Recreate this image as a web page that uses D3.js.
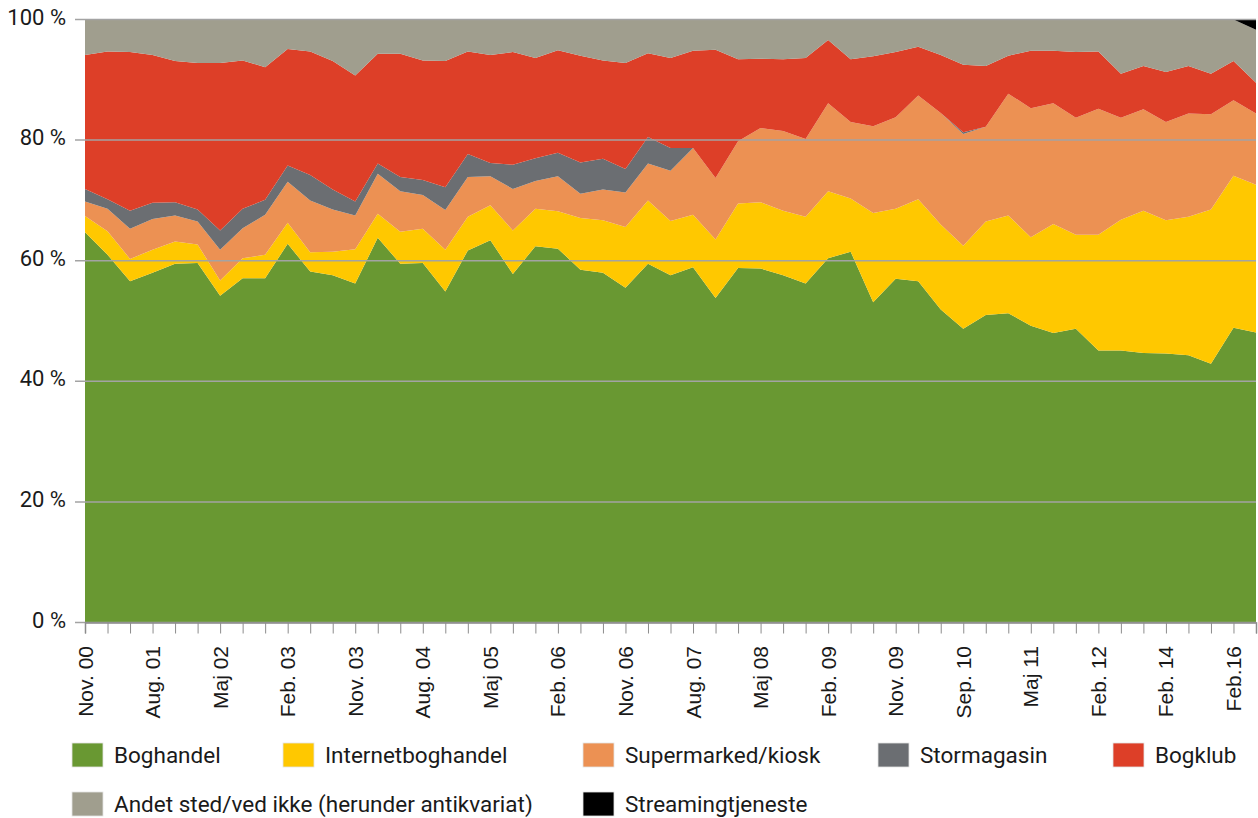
<!DOCTYPE html>
<html>
<head>
  <meta charset="utf-8"/>
  <style>
    body { margin: 0; background: #fff; }
    svg { display: block; }
    .ylab { font-family: Roboto, sans-serif; font-size: 22px; fill: #1a1a1a; }
    .xlab { font-family: "Liberation Sans", Arial, sans-serif; font-size: 21px; fill: #1a1a1a; }
    .leg { font-family: Roboto, sans-serif; font-size: 22.5px; fill: #1a1a1a; }
  </style>
</head>
<body>
  <div id="chart"></div>
  <script src="https://d3js.org/d3.v7.min.js"></script>
  <script>
    // one point per survey round, tick label on every third one
    let tickLabels = ['Nov. 00', 'Aug. 01', 'Maj 02', 'Feb. 03', 'Nov. 03', 'Aug. 04', 'Maj 05', 'Feb. 06',
                      'Nov. 06', 'Aug. 07', 'Maj 08', 'Feb. 09', 'Nov. 09', 'Sep. 10', 'Maj 11', 'Feb. 12',
                      'Feb. 14', 'Feb.16'];
    let nPoints = 53;

    let seriesNames = ['Boghandel', 'Internetboghandel', 'Supermarked/kiosk', 'Stormagasin', 'Bogklub',
                       'Andet sted/ved ikke (herunder antikvariat)', 'Streamingtjeneste'];

    let boghandel = [64.7, 61.0, 56.6, 58.0, 59.5, 59.6, 54.2, 57.1, 57.1, 62.8, 58.2, 57.6, 56.2, 63.8,
                     59.5, 59.6, 54.9, 61.7, 63.4, 57.8, 62.4, 62.0, 58.5, 58.0, 55.5, 59.5, 57.6, 58.9,
                     53.8, 58.8, 58.7, 57.6, 56.2, 60.4, 61.5, 53.1, 57.0, 56.6, 51.9, 48.7, 51.0, 51.3,
                     49.2, 48.0, 48.7, 45.1, 45.1, 44.7, 44.6, 44.3, 42.9, 48.9, 48.1];
    let internet = [2.7, 3.9, 3.7, 3.8, 3.7, 3.1, 2.5, 3.3, 3.9, 3.5, 3.2, 3.9, 5.7, 4.0,
                    5.3, 5.7, 6.9, 5.6, 5.8, 7.2, 6.2, 6.2, 8.6, 8.7, 10.1, 10.5, 9.0, 8.7,
                    9.7, 10.7, 11.0, 10.7, 11.1, 11.1, 8.8, 14.8, 11.6, 13.6, 14.1, 13.8, 15.5, 16.2,
                    14.7, 18.1, 15.6, 19.2, 21.7, 23.6, 22.1, 23.0, 25.6, 25.2, 24.5];
    let supermarked = [2.4, 3.7, 5.0, 5.1, 4.3, 3.8, 5.1, 5.0, 6.6, 6.8, 8.6, 7.0, 5.6, 6.6,
                       6.7, 5.6, 6.6, 6.6, 4.8, 6.9, 4.6, 5.8, 4.0, 5.1, 5.7, 6.1, 8.3, 11.1,
                       10.2, 10.3, 12.3, 13.2, 12.9, 14.6, 12.7, 14.4, 15.2, 17.2, 18.5, 18.5, 15.7, 20.2,
                       21.4, 20.0, 19.4, 20.9, 16.9, 16.8, 16.3, 17.1, 15.8, 12.5, 11.8];
    let stormagasin = [2.1, 1.6, 3.0, 2.7, 2.2, 2.0, 3.2, 3.2, 2.5, 2.7, 4.2, 3.3, 2.3, 1.7,
                       2.4, 2.5, 3.8, 3.8, 2.2, 4.0, 3.8, 3.9, 5.2, 5.1, 3.9, 4.4, 3.8, 0,
                       0, 0, 0, 0, 0, 0, 0, 0, 0, 0, 0, 0.3, 0, 0,
                       0, 0, 0, 0, 0, 0, 0, 0, 0, 0, 0];
    let bogklub = [22.2, 24.5, 26.3, 24.5, 23.4, 24.3, 27.8, 24.6, 22.0, 19.3, 20.5, 21.3, 20.9, 18.2,
                   20.4, 19.8, 20.9, 17.0, 17.9, 18.7, 16.6, 17.0, 17.7, 16.3, 17.6, 13.9, 14.9, 16.1,
                   21.3, 13.6, 11.5, 11.9, 13.4, 10.5, 10.4, 11.6, 10.8, 8.1, 9.6, 11.2, 10.1, 6.3,
                   9.5, 8.7, 10.9, 9.5, 7.3, 7.2, 8.3, 7.9, 6.7, 6.5, 5.1];
    let andet = [5.9, 5.3, 5.4, 5.9, 6.9, 7.2, 7.2, 6.8, 7.9, 4.9, 5.3, 6.9, 9.3, 5.7,
                 5.7, 6.8, 6.9, 5.3, 5.9, 5.4, 6.4, 5.1, 6.0, 6.8, 7.2, 5.6, 6.4, 5.2,
                 5.0, 6.6, 6.5, 6.6, 6.4, 3.4, 6.6, 6.1, 5.4, 4.5, 5.9, 7.5, 7.7, 6.0,
                 5.2, 5.2, 5.4, 5.3, 9.0, 7.7, 8.7, 7.7, 9.0, 6.9, 8.8];
    let streaming = [0, 0, 0, 0, 0, 0, 0, 0, 0, 0, 0, 0, 0, 0,
                     0, 0, 0, 0, 0, 0, 0, 0, 0, 0, 0, 0, 0, 0,
                     0, 0, 0, 0, 0, 0, 0, 0, 0, 0, 0, 0, 0, 0,
                     0, 0, 0, 0, 0, 0, 0, 0, 0, 0, 1.7];

    let yTicks = [0, 20, 40, 60, 80, 100];

    let colors = ['#699832', '#ffc800', '#ec9153', '#6b6e72', '#dd3f28', '#a09e8e', '#000000'];

    let width = 1258,
        height = 818,
        margin = {'left': 85, 'right': 2, 'top': 19.5, 'bottom': 195.5};

    let seriesValues = [boghandel, internet, supermarked, stormagasin, bogklub, andet, streaming];
    let rows = d3.range(nPoints).map(function (i) {
      let r = {'i': i};
      seriesNames.forEach(function (name, k) { r[name] = seriesValues[k][i]; });
      return r;
    });

    let svg = d3.select('#chart')
        .append('svg')
        .attr('width', width)
        .attr('height', height);

    let x = d3.scaleLinear()
        .domain([0, nPoints - 1])
        .range([margin.left, width - margin.right]);

    let y = d3.scaleLinear()
        .domain([0, 100])
        .range([height - margin.bottom, margin.top]);

    let color = d3.scaleOrdinal(seriesNames, colors);

    let stacked = d3.stack().keys(seriesNames)(rows);

    let area = d3.area()
        .x(function (d) { return x(d.data.i); })
        .y0(function (d) { return y(d[0]); })
        .y1(function (d) { return y(d[1]); });

    svg.append('g')
        .selectAll('path')
        .data(stacked)
        .enter()
        .append('path')
        .attr('fill', function (d) { return color(d.key); })
        .attr('d', area);

    // horizontal grid lines on top of the areas
    svg.append('g')
        .selectAll('line')
        .data(yTicks)
        .enter()
        .append('line')
        .attr('x1', margin.left - 10)
        .attr('x2', width - margin.right)
        .attr('y1', function (d) { return y(d); })
        .attr('y2', function (d) { return y(d); })
        .attr('stroke', '#a3a3a3')
        .attr('stroke-width', 1.5);

    svg.append('g')
        .selectAll('text')
        .data(yTicks)
        .enter()
        .append('text')
        .attr('class', 'ylab')
        .attr('x', 66)
        .attr('y', function (d) { return y(d) + 5; })
        .attr('text-anchor', 'end')
        .text(function (d) { return d + ' %'; });

    // x axis
    let xAxis = d3.axisBottom(x)
        .tickValues(d3.range(nPoints))
        .tickSize(11)
        .tickFormat('');

    let gx = svg.append('g')
        .attr('transform', 'translate(0,' + y(0) + ')')
        .call(xAxis);
    gx.select('.domain').attr('stroke', '#8c8c8c').attr('stroke-width', 1.5);
    gx.selectAll('.tick line').attr('stroke', '#8c8c8c');

    svg.append('g')
        .selectAll('text')
        .data(tickLabels)
        .enter()
        .append('text')
        .attr('class', 'xlab')
        .attr('text-anchor', 'end')
        .attr('transform', function (d, i) {
          return 'translate(' + (x(i * 3) + 7.5) + ',' + 646 + ') rotate(-90)';
        })
        .text(function (d) { return d; });

    // legend
    let legendPos = [[72, 743], [283, 743], [583, 743], [878, 743], [1113, 743], [72, 792], [583, 792]];

    let legend = svg.append('g')
        .selectAll('g')
        .data(seriesNames)
        .enter()
        .append('g')
        .attr('transform', function (d, i) {
          return 'translate(' + legendPos[i][0] + ',' + legendPos[i][1] + ')';
        });

    legend.append('rect')
        .attr('width', 31)
        .attr('height', 24)
        .attr('fill', function (d) { return color(d); })
        .attr('stroke', '#e4e4e4')
        .attr('stroke-width', 0.8);

    legend.append('text')
        .attr('class', 'leg')
        .attr('x', 42)
        .attr('y', 20)
        .text(function (d) { return d; });
  </script>
</body>
</html>
